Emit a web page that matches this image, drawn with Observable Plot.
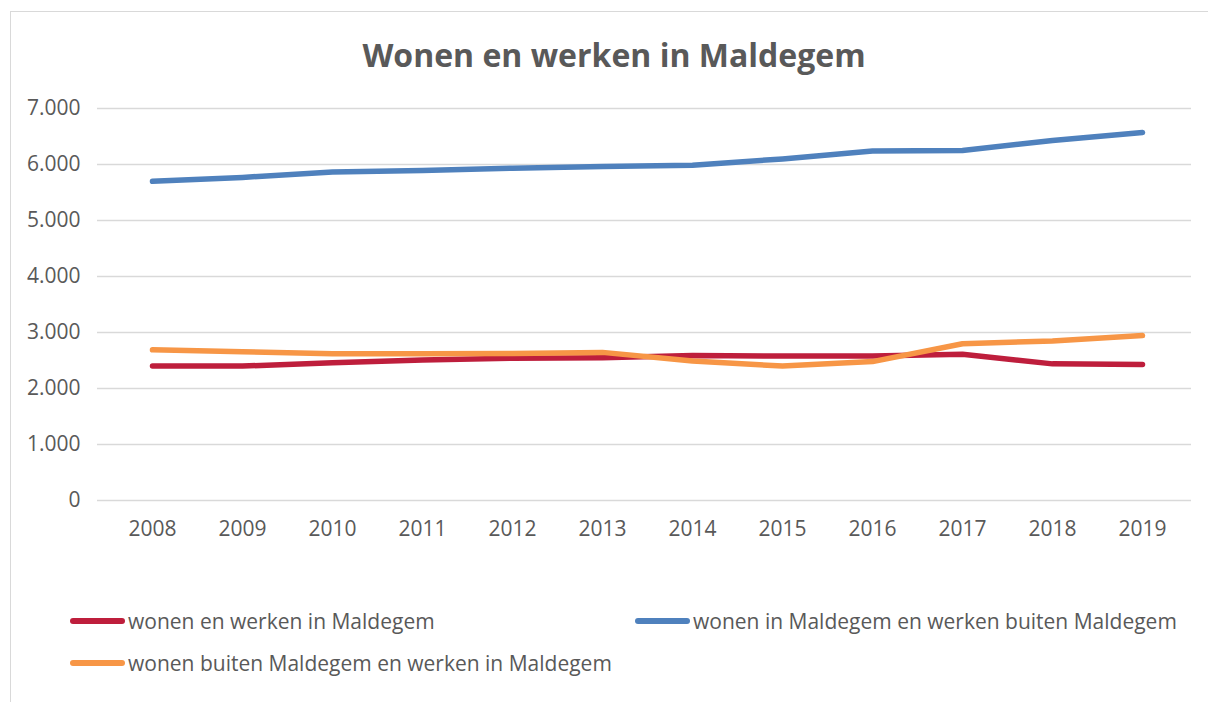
<!DOCTYPE html>
<html>
<head>
<meta charset="utf-8">
<script src="https://cdn.jsdelivr.net/npm/d3@7"></script>
<script src="https://cdn.jsdelivr.net/npm/@observablehq/plot@0.6"></script>
<style>
  body { margin: 0; background: #fff; font-family: "Open Sans", sans-serif; }
  #wrap { position: relative; width: 1208px; height: 702px; overflow: hidden; }
  #frame { position: absolute; left: 10px; top: 11px; width: 1300px; height: 800px; border: 1px solid #d9d9d9; box-sizing: border-box; }
  #title { position: absolute; left: 0; top: 33px; width: 1228px; text-align: center; font-size: 32px; font-weight: bold; color: #595959; }
  #chart { position: absolute; left: 0; top: 75px; }
  .leg { position: absolute; display: flex; align-items: center; font-size: 21px; color: #595959; white-space: nowrap; }
  .sw { width: 55px; height: 6px; border-radius: 3px; margin-right: 3px; }
</style>
</head>
<body>
<div id="wrap">
  <div id="frame"></div>
  <div id="title">Wonen en werken in Maldegem</div>
  <div id="chart"></div>
  <div id="legend"></div>
</div>
<script>
const years = [2008, 2009, 2010, 2011, 2012, 2013, 2014, 2015, 2016, 2017, 2018, 2019];
const seriesNames = [
  "wonen en werken in Maldegem",
  "wonen in Maldegem en werken buiten Maldegem",
  "wonen buiten Maldegem en werken in Maldegem"
];
const colors = ["#BE1E3C", "#4F81BD", "#F79646"];
const wonenWerken = [2400, 2400, 2460, 2510, 2540, 2550, 2590, 2580, 2580, 2610, 2440, 2430];
const wonenBuitenWerken = [5700, 5770, 5865, 5895, 5935, 5965, 5985, 6100, 6240, 6250, 6430, 6570];
const buitenWonenWerken = [2690, 2655, 2620, 2620, 2625, 2645, 2490, 2400, 2480, 2800, 2850, 2945];
const yTicks = [0, 1000, 2000, 3000, 4000, 5000, 6000, 7000];

const seriesValues = [wonenWerken, wonenBuitenWerken, buitenWonenWerken];
const data = [];
seriesNames.forEach((s, i) => years.forEach((y, j) => data.push({series: s, year: String(y), value: seriesValues[i][j]})));

const fmt = d3.formatLocale({decimal: ",", thousands: ".", grouping: [3], currency: ["", ""]}).format(",");

const plot = Plot.plot({
  width: 1208,
  height: 490,
  marginTop: 33,
  marginBottom: 65,
  marginLeft: 101,
  marginRight: 17,
  style: {fontFamily: "Open Sans, sans-serif", fontSize: "21px", color: "#595959", background: "transparent", overflow: "visible"},
  x: {type: "point", domain: years.map(String), padding: 0, range: [147, 1146], label: null},
  y: {domain: [0, 7000], label: null},
  color: {domain: seriesNames, range: colors},
  marks: [
    Plot.ruleY(yTicks, {stroke: "#d9d9d9", strokeWidth: 1.5, insetLeft: -4}),
    Plot.axisY({ticks: yTicks, tickSize: 0, tickPadding: 21, tickFormat: fmt, label: null, fill: "#595959", fontSize: 21}),
    Plot.axisX({tickSize: 0, tickPadding: 21, label: null, fill: "#595959", fontSize: 21}),
    Plot.line(data, {x: "year", y: "value", z: "series", stroke: "series", strokeWidth: 5.5, strokeLinecap: "round", strokeLinejoin: "round"})
  ]
});
document.getElementById("chart").appendChild(plot);

const legendPos = [[70, 621], [635, 621], [70, 663]];
const legend = document.getElementById("legend");
seriesNames.forEach((s, i) => {
  const el = document.createElement("div");
  el.className = "leg";
  el.style.left = legendPos[i][0] + "px";
  el.style.top = (legendPos[i][1] - 14) + "px";
  el.style.height = "28px";
  el.innerHTML = `<div class="sw" style="background:${colors[i]}"></div><span>${s}</span>`;
  legend.appendChild(el);
});
</script>
</body>
</html>
